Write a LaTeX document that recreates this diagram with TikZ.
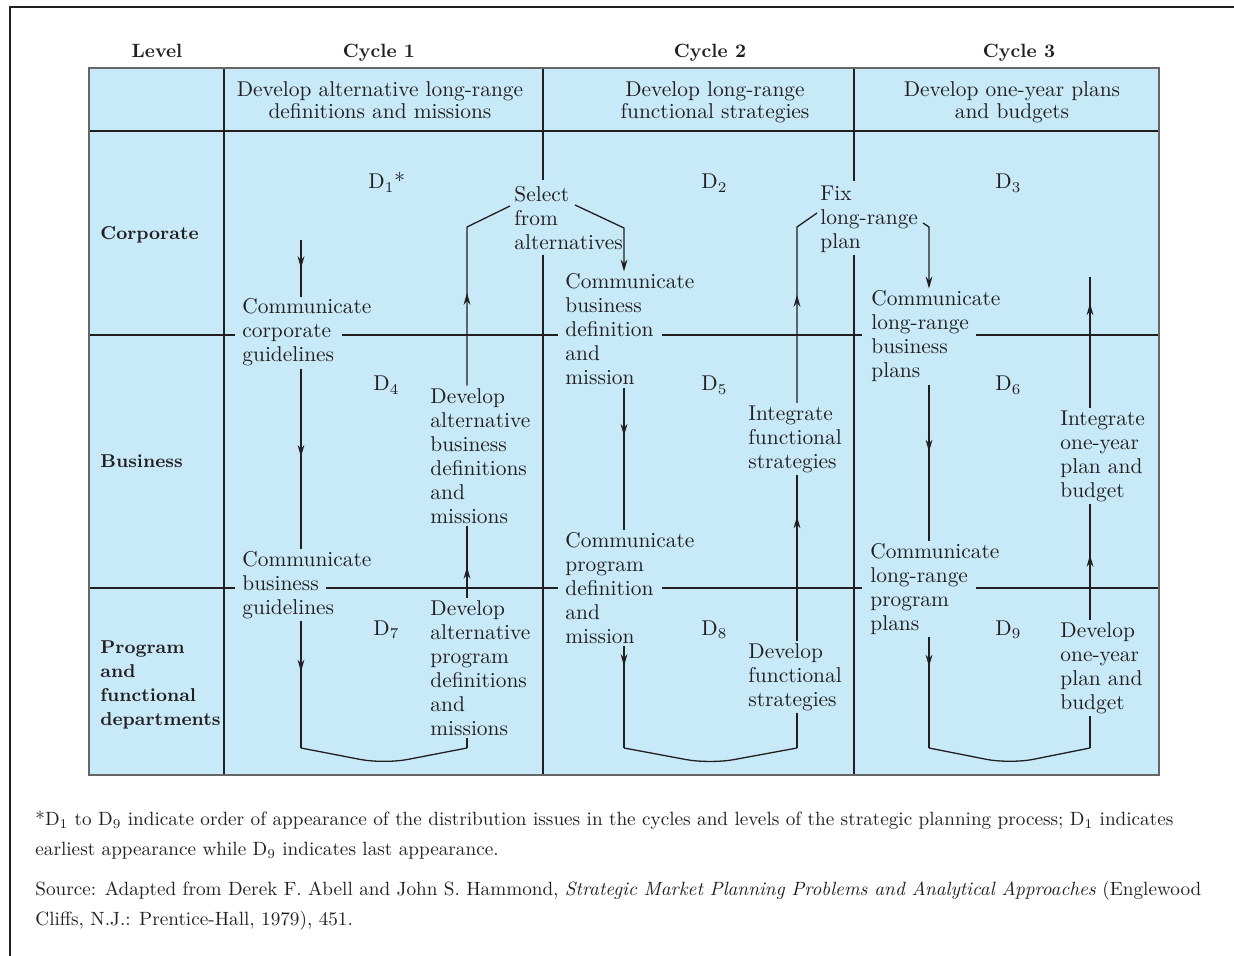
\documentclass[tikz,border=0pt]{standalone}
\usepackage{fontspec}
\usetikzlibrary{positioning, arrows.meta, decorations.markings, calc}
\definecolor{cellblue}{RGB}{199,233,248}
\definecolor{ink}{RGB}{35,31,32}
\tikzset{
  cell/.style={anchor=base west, align=left, inner sep=1pt, text=ink,
    font=\fontsize{10.7}{12}\selectfont},
  tophead/.style={anchor=base, align=center, inner sep=1pt, text=ink,
    font=\fontsize{10.7}{11}\selectfont},
  colhead/.style={anchor=base, inner sep=1pt, text=ink,
    font=\fontsize{9.6}{12}\selectfont\bfseries},
  levhead/.style={anchor=base west, align=left, inner sep=1pt, text=ink,
    font=\fontsize{9.3}{12}\selectfont\bfseries},
  dmark/.style={anchor=base west, inner sep=0pt, text=ink,
    font=\fontsize{10.7}{12}\selectfont},
  note/.style={anchor=base west, align=left, inner sep=0pt, text=ink,
    font=\fontsize{9.6}{15}\selectfont},
  gridline/.style={color=ink, line width=0.65pt},
  flow/.style={color=ink, line width=0.65pt},
  endtip/.style={-{Stealth[length=6pt,width=3.4pt]}},
  midarrow/.style={postaction={decorate}, decoration={markings,
    mark=at position #1 with {\arrow{Stealth[length=6pt,width=3.4pt]}}}},
}

\begin{document}
\begin{tikzpicture}[x=0.5pt, y=-0.5pt]
        \useasboundingbox (0,0) rectangle (1234,956);
        \draw[ink, line width=1pt] (1234,7) -- (10,7) -- (10,956);
        \fill[cellblue] (89,68) rectangle (1159,775);

        \draw[gridline] (89,131) -- (1159,131);
        \draw[gridline] (224,68) -- (224,775);
        \draw[gridline] (543,68) -- (543,180) (543,255) -- (543,775);
        \draw[gridline] (854,68) -- (854,181) (854,255) -- (854,775);
        \draw[gridline] (89,335) -- (235,335) (342,335) -- (558,335)
                        (662,335) -- (862,335) (976,335) -- (1159,335);
        \draw[gridline] (89,588) -- (235,588) (326,588) -- (558,588)
                        (662,588) -- (862,588) (976,588) -- (1159,588);
        \draw[black!60, line width=1.1pt] (89,68) rectangle (1159,775);

        \node[colhead] (lev) at (157,58) {Level};
        \node[colhead] (cyc1) at (379,58) {Cycle 1};
        \node[colhead] (cyc2) at (710,58) {Cycle 2};
        \node[colhead] (cyc3) at (1019,58) {Cycle 3};

        \node[tophead] (h1) at (380,119) {Develop alternative long-range\\definitions and missions};
        \node[tophead] (h2) at (715,119) {Develop long-range\\functional strategies};
        \node[tophead] (h3) at (1012,119) {Develop one-year plans\\and budgets};

        \node[levhead] (corp) at (98,240) {Corporate};
        \node[levhead] (bus) at (98,467) {Business};
        \node[levhead] (prog) at (98,725) {Program\\and\\functional\\departments};

        \node[dmark] (d1) at (368,189) {D\textsubscript{1}*};
        \node[dmark] (d2) at (701,189) {D\textsubscript{2}};
        \node[dmark] (d3) at (995,189) {D\textsubscript{3}};
        \node[dmark] (d4) at (373,391) {D\textsubscript{4}};
        \node[dmark] (d5) at (701,391) {D\textsubscript{5}};
        \node[dmark] (d6) at (995,391) {D\textsubscript{6}};
        \node[dmark] (d7) at (373,635) {D\textsubscript{7}};
        \node[dmark] (d8) at (701,635) {D\textsubscript{8}};
        \node[dmark] (d9) at (995,635) {D\textsubscript{9}};

        \node[cell] (ccg) at (240,362) {Communicate\\corporate\\guidelines};
        \node[cell] (cbg) at (240,614) {Communicate\\business\\guidelines};
        \node[cell] (sel) at (512,250) {Select\\from\\alternatives};
        \node[cell] (dab) at (428,523) {Develop\\alternative\\business\\definitions\\and\\missions};
        \node[cell] (dap) at (428,735) {Develop\\alternative\\program\\definitions\\and\\missions};

        \node[cell] (cbd) at (563,385) {Communicate\\business\\definition\\and\\mission};
        \node[cell] (cpd) at (563,643) {Communicate\\program\\definition\\and\\mission};
        \node[cell] (fix) at (818,249) {Fix\\long-range\\plan};
        \node[cell] (ifs) at (746,468) {Integrate\\functional\\strategies};
        \node[cell] (dfs) at (746,706) {Develop\\functional\\strategies};

        \node[cell] (clb) at (869,378) {Communicate\\long-range\\business\\plans};
        \node[cell] (clp) at (868,630) {Communicate\\long-range\\program\\plans};
        \node[cell] (iop) at (1058,497) {Integrate\\one-year\\plan and\\budget};
        \node[cell] (dop) at (1058,709) {Develop\\one-year\\plan and\\budget};

        \coordinate (c1d) at (301,0);
        \coordinate (c1u) at (467,0);
        \coordinate (c2d) at (624,0);
        \coordinate (c2u) at (797,0);
        \coordinate (c3d) at (929,0);
        \coordinate (c3u) at (1090,0);
        \coordinate (top1) at (301,240);
        \coordinate (top3) at (1090,277);
        \coordinate (b1l) at (301,748);
        \coordinate (b1m) at (384,764);
        \coordinate (b1r) at (467,748);
        \coordinate (b2l) at (624,748);
        \coordinate (b2m) at (710,764);
        \coordinate (b2r) at (797,748);
        \coordinate (b3l) at (929,748);
        \coordinate (b3m) at (1010,764);
        \coordinate (b3r) at (1090,748);

        \draw[flow, midarrow=0.5] (top1) -- (c1d |- ccg.north);
        \draw[flow, midarrow=0.49] (c1d |- ccg.south) -- (c1d |- cbg.north);
        \draw[flow, midarrow=0.4] (c1d |- cbg.south) -- (b1l);
        \draw[flow, rounded corners=12pt] (b1l) -- (b1m) -- (b1r);
        \draw[flow] (b1r) -- (c1u |- dap.south);
        \draw[flow, midarrow=0.43] (c1u |- dap.north) -- (c1u |- dab.south);
        \draw[flow, midarrow=0.45] (c1u |- dab.north) -- (467,227) -- ($(sel.base west)+(-2,-44)$);
        \draw[flow, endtip] ($(sel.base west)+(63,-45)$) -- (624,228) -- (c2d |- cbd.north);

        \draw[flow, midarrow=0.34] (c2d |- cbd.south) -- (c2d |- cpd.north);
        \draw[flow, midarrow=0.2] (c2d |- cpd.south) -- (b2l);
        \draw[flow, rounded corners=12pt] (b2l) -- (b2m) -- (b2r);
        \draw[flow] (b2r) -- (c2u |- dfs.south);
        \draw[flow, midarrow=0.75] (c2u |- dfs.north) -- (c2u |- ifs.south);
        \draw[flow, midarrow=0.54] (c2u |- ifs.north) -- (797,227) -- ($(fix.base west)+(-1,-36)$);
        \draw[flow, endtip] ($(fix.base west)+(105,-26)$) -- (929,227) -- (c3d |- clb.north);

        \draw[flow, midarrow=0.43] (c3d |- clb.south) -- (c3d |- clp.north);
        \draw[flow, midarrow=0.27] (c3d |- clp.south) -- (b3l);
        \draw[flow, rounded corners=12pt] (b3l) -- (b3m) -- (b3r);
        \draw[flow] (b3r) -- (c3u |- dop.south);
        \draw[flow, midarrow=0.56] (c3u |- dop.north) -- (c3u |- iop.south);
        \draw[flow, midarrow=0.8] (c3u |- iop.north) -- (top3);

        \node[note] (fn) at (35,855) {*D\textsubscript{1} to D\textsubscript{9} indicate order of appearance of the distribution issues in the cycles and levels of the strategic planning process; D\textsubscript{1} indicates\\earliest appearance while D\textsubscript{9} indicates last appearance.};
        \node[note] (src) at (35,925) {Source: Adapted from Derek F. Abell and John S. Hammond, \textit{Strategic Market Planning Problems and Analytical Approaches} (Englewood\\Cliffs, N.J.: Prentice-Hall, 1979), 451.};
\end{tikzpicture}
\end{document}
